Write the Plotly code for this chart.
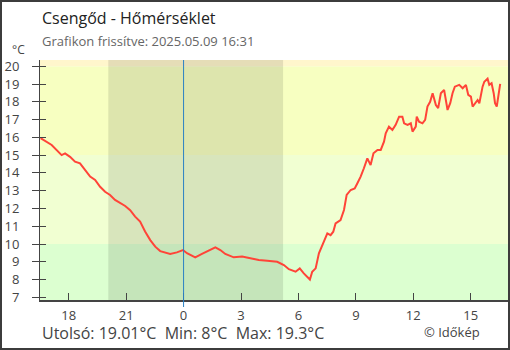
import pandas as pd
import plotly.graph_objects as go

# ---- data ----
# hours relative to 2025-05-09 00:00
hours = [-7.47, -6.89, -6.37, -6.19, -5.93, -5.67, -5.41, -5.15, -4.88, -4.62,
         -4.36, -4.10, -3.84, -3.58, -3.31, -3.05, -2.79, -2.53, -2.27, -2.01,
         -1.74, -1.48, -1.22, -0.96, -0.70, -0.35, -0.03, 0.18, 0.61, 0.96,
         1.23, 1.40, 1.66, 1.92, 2.18, 2.62, 3.06, 3.49, 3.93, 4.37,
         4.89, 5.24, 5.50, 5.85, 6.07, 6.28, 6.60, 6.72, 6.90, 7.07,
         7.25, 7.42, 7.51, 7.68, 7.82, 7.94, 8.20, 8.38, 8.52, 8.73,
         8.94, 9.08, 9.25, 9.42, 9.60, 9.77, 9.92, 10.13, 10.30, 10.47,
         10.56, 10.73, 10.91, 11.08, 11.26, 11.43, 11.52, 11.70, 11.87, 11.96,
         12.13, 12.18, 12.30, 12.48, 12.62, 12.74, 12.88, 13.01, 13.18, 13.30,
         13.44, 13.61, 13.70, 13.79, 13.93, 14.05, 14.17, 14.40, 14.58, 14.75,
         14.87, 15.01, 15.10, 15.22, 15.36, 15.45, 15.53, 15.62, 15.71, 15.88,
         15.97, 16.09, 16.20, 16.27, 16.36, 16.44, 16.54]
temps = [15.95, 15.57, 15.0, 15.1, 14.9, 14.63, 14.54, 14.16, 13.79, 13.6,
         13.22, 12.94, 12.76, 12.48, 12.29, 12.14, 11.9, 11.54, 11.26, 10.7,
         10.22, 9.85, 9.6, 9.51, 9.44, 9.53, 9.66, 9.48, 9.25, 9.44,
         9.57, 9.66, 9.81, 9.66, 9.44, 9.25, 9.29, 9.2, 9.1, 9.06,
         9.0, 8.82, 8.58, 8.44, 8.63, 8.35, 8.0, 8.44, 8.63, 9.48,
         9.94, 10.41, 10.6, 10.5, 10.69, 11.16, 11.35, 11.91, 12.76, 13.04,
         13.13, 13.42, 13.79, 14.26, 14.82, 14.44, 15.1, 15.29, 15.29, 15.76,
         16.23, 16.6, 16.42, 16.7, 17.16, 17.16, 16.79, 16.7, 16.79, 16.32,
         16.6, 17.16, 16.88, 16.79, 16.98, 17.73, 18.0, 18.48, 17.82, 17.64,
         18.48, 18.67, 18.2, 17.54, 17.92, 18.48, 18.85, 18.95, 18.76, 18.95,
         18.39, 18.29, 17.73, 17.92, 18.1, 17.92, 18.39, 18.85, 19.13, 19.3,
         18.95, 19.04, 18.48, 17.92, 17.73, 18.39, 19.01]

base_day = "2025-05-09 00:00"
x_start, x_end = "2025-05-08 16:30", "2025-05-09 17:00"
sunset, sunrise = "2025-05-08 20:04", "2025-05-09 05:12"
midnight = "2025-05-09 00:00"
tick_times = ["2025-05-08 18:00", "2025-05-08 21:00", "2025-05-09 00:00",
              "2025-05-09 03:00", "2025-05-09 06:00", "2025-05-09 09:00",
              "2025-05-09 12:00", "2025-05-09 15:00"]
tick_labels = ["18", "21", "0", "3", "6", "9", "12", "15"]
y_ticks = list(range(7, 21))
band_edges = [-50, 10, 15, 20, 50]
band_colors = ["#dcffd0", "#f1ffd2", "#f7ffc1", "#fff6cc"]

title = "Csengőd - Hőmérséklet"
subtitle = "Grafikon frissítve: 2025.05.09 16:31"
footer = "Utolsó: 19.01°C\u00a0\u00a0Min: 8°C\u00a0\u00a0Max: 19.3°C"
credit = "© Időkép"

times = pd.Timestamp(base_day) + pd.to_timedelta(hours, unit="h")

FONT = "Open Sans"
W, H = 510, 350
ML, MR, MT, MB = 40, 1, 60, 50
PW, PH = W - ML - MR, H - MT - MB


def px_x(p):
    return (p - ML) / PW


def px_y(p):
    return (H - MB - p) / PH


fig = go.Figure()
fig.add_trace(go.Scatter(x=times, y=temps, mode="lines",
                         line=dict(color="#ff4438", width=2),
                         hoverinfo="skip", showlegend=False))
# helper invisible trace for inner-tick axis
fig.add_trace(go.Scatter(x=[times[0]], y=[temps[0]], yaxis="y2", mode="markers",
                         marker=dict(opacity=0), hoverinfo="skip", showlegend=False))

shapes = []
for i, c in enumerate(band_colors):
    shapes.append(dict(type="rect", xref="paper", yref="y", x0=0, x1=1,
                       y0=band_edges[i], y1=band_edges[i + 1],
                       fillcolor=c, line=dict(width=0), layer="below"))
shapes.append(dict(type="rect", xref="x", yref="paper", x0=sunset, x1=sunrise,
                   y0=0, y1=1, fillcolor="rgba(0,0,0,0.1)", line=dict(width=0),
                   layer="below"))
shapes.append(dict(type="line", xref="x", yref="paper", x0=midnight, x1=midnight,
                   y0=px_y(307), y1=1, line=dict(color="#2a80c4", width=1)))
# outer frame
shapes.append(dict(type="rect", xref="paper", yref="paper",
                   x0=px_x(1), x1=px_x(509), y0=px_y(349), y1=px_y(1),
                   line=dict(color="#3c3c3c", width=2), fillcolor="rgba(0,0,0,0)"))

annotations = [
    dict(text=title, x=0, y=px_y(18), xref="paper", yref="paper",
         xanchor="left", yanchor="middle", showarrow=False,
         font=dict(family=FONT, size=16, color="#222")),
    dict(text=subtitle, x=0, y=px_y(41), xref="paper", yref="paper",
         xanchor="left", yanchor="middle", showarrow=False,
         font=dict(family=FONT, size=13, color="#666")),
    dict(text="°C", x=px_x(18), y=px_y(50), xref="paper", yref="paper",
         xanchor="center", yanchor="middle", showarrow=False,
         font=dict(family=FONT, size=12, color="#444")),
    dict(text=footer, x=px_x(40), y=px_y(333), xref="paper", yref="paper",
         xanchor="left", yanchor="middle", showarrow=False,
         font=dict(family=FONT, size=16, color="#444")),
    dict(text=credit, x=px_x(482), y=px_y(332), xref="paper", yref="paper",
         xanchor="right", yanchor="middle", showarrow=False,
         font=dict(family=FONT, size=13, color="#444")),
]

yr = [6.85, 20.35]
fig.update_layout(
    width=W, height=H,
    margin=dict(l=ML, r=MR, t=MT, b=MB, pad=0),
    paper_bgcolor="white", plot_bgcolor="white",
    shapes=shapes, annotations=annotations,
    xaxis=dict(type="date", range=[x_start, x_end], tickvals=tick_times,
               ticktext=tick_labels, ticks="inside", ticklen=7, tickwidth=1,
               tickcolor="#444", showline=True, linecolor="#444", linewidth=2,
               showgrid=False, zeroline=False, ticklabelstandoff=2,
               tickfont=dict(family=FONT, size=13, color="#444")),
    yaxis=dict(range=yr, tickvals=y_ticks, ticks="outside", ticklen=7,
               tickwidth=1, tickcolor="#444", showline=True, linecolor="#444",
               linewidth=1, showgrid=False, zeroline=False, ticklabelstandoff=10,
               tickfont=dict(family=FONT, size=13, color="#444")),
    yaxis2=dict(range=yr, tickvals=y_ticks, overlaying="y", side="left",
                ticks="inside", ticklen=6, tickwidth=1, tickcolor="#444",
                showticklabels=False, showgrid=False, zeroline=False,
                showline=False),
)

fig.write_html("out.html", config={"displayModeBar": False},
               post_script="document.body.style.margin='0';"
                           "document.body.style.overflow='hidden';")
